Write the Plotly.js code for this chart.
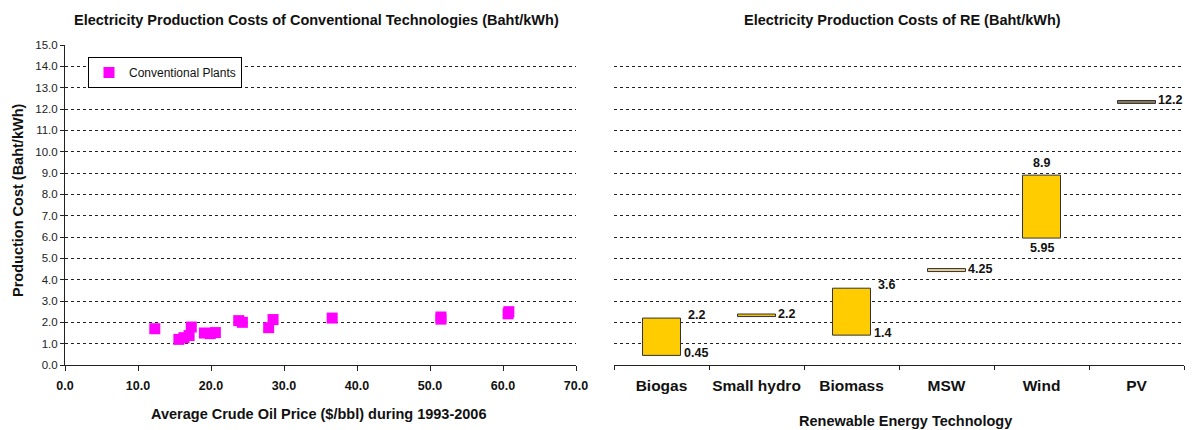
<!DOCTYPE html>
<html>
<head>
<meta charset="utf-8">
<script src="https://cdn.plot.ly/plotly-3.0.1.min.js"></script>
<style>html,body{margin:0;padding:0;background:#fff;}#chart{width:1193px;height:430px;}</style>
</head>
<body>
<div id="chart"></div>
<script>
// ---- Data: conventional plants ----
const oilPrice = [12.3, 15.6, 16.3, 17.0, 17.3, 19.1, 19.9, 20.6, 23.8, 24.3, 27.9, 28.5, 36.6, 51.5, 51.5, 60.7, 60.8];
const prodCost = [1.70, 1.20, 1.28, 1.38, 1.78, 1.50, 1.47, 1.52, 2.08, 2.00, 1.75, 2.13, 2.20, 2.15, 2.25, 2.40, 2.50];

// ---- Data: renewable energy ranges ----
const reTech = ["Biogas", "Small hydro", "Biomass", "MSW", "Wind", "PV"];
const reLow  = [0.45, 2.27, 1.4, 4.38, 5.95, 12.26];
const reHigh = [2.2, 2.39, 3.6, 4.52, 8.9, 12.40];
const reTopLabel    = ["2.2", "2.2", "3.6", "4.25", "8.9", "12.2"];
const reBottomLabel = ["0.45", "", "1.4", "", "5.95", ""];

const FONT = "Liberation Sans, Arial, sans-serif";
const barFill = ["#FFCC00", "#F0C010", "#FFCC00", "#E9CC8E", "#FFCC00", "#8A7A5C"];
const dash = "3px,3px";

const traces = [
  {
    type: "scatter", mode: "markers", name: "Conventional Plants",
    x: oilPrice, y: prodCost, xaxis: "x", yaxis: "y",
    marker: {symbol: "square", size: 11, color: "#FF00FF"},
    showlegend: true, cliponaxis: false
  },
  {
    type: "bar", x: reTech, y: reHigh.map((h, i) => h - reLow[i]), base: reLow,
    xaxis: "x2", yaxis: "y2", width: 0.4, showlegend: false,
    marker: {color: barFill, line: {color: "#333", width: 1}}
  }
];

const titleFont = {family: FONT, size: 14.5, color: "#111"};
const annotations = [];
function paperText(txt, px, py, extra) {
  annotations.push(Object.assign({text: "<b>" + txt + "</b>", xref: "paper", yref: "paper",
    x: px/1193, y: 1 - py/430, xanchor: "center", yanchor: "middle",
    showarrow: false, font: titleFont}, extra || {}));
}
paperText("Electricity Production Costs of Conventional Technologies (Baht/kWh)", 316, 20);
paperText("Electricity Production Costs of RE (Baht/kWh)", 902, 20);
paperText("Average Crude Oil Price ($/bbl) during 1993-2006", 319, 414);
paperText("Renewable Energy Technology", 905, 421);
paperText("Production Cost (Baht/kWh)", 18, 201, {textangle: -90});

// Value labels
const labelFont = {family: FONT, size: 12.5, color: "#111"};
reTech.forEach((c, i) => {
  const centred = (c === "Wind");
  const thin = (reHigh[i] - reLow[i]) < 0.5;
  if (reTopLabel[i]) {
    annotations.push({text: "<b>" + reTopLabel[i] + "</b>", xref: "x2", yref: "y2",
      x: c, y: reHigh[i], showarrow: false, font: labelFont,
      xanchor: centred ? "center" : "left", yanchor: centred ? "bottom" : "middle",
      xshift: centred ? 0 : (thin ? 19 : 24), yshift: centred ? 3 : (thin ? 0 : 3)});
  }
  if (reBottomLabel[i]) {
    annotations.push({text: "<b>" + reBottomLabel[i] + "</b>", xref: "x2", yref: "y2",
      x: c, y: reLow[i], showarrow: false, font: labelFont,
      xanchor: centred ? "center" : "left", yanchor: centred ? "top" : "middle",
      xshift: centred ? 0 : 20, yshift: centred ? -1 : 2});
  }
});

const yDomain = [1 - 365/430, 1 - 45/430];
const layout = {
  width: 1193, height: 430,
  margin: {l: 0, r: 0, t: 0, b: 0},
  paper_bgcolor: "#fff", plot_bgcolor: "#fff",
  font: {family: FONT, color: "#111"},
  showlegend: true,
  legend: {x: 88/1193, y: 1 - 57/430, xanchor: "left", yanchor: "top",
    bgcolor: "#fff", bordercolor: "#000", borderwidth: 1,
    font: {family: FONT, size: 12, color: "#111"}},
  xaxis: {domain: [65/1193, 576/1193], range: [0, 70], dtick: 10, tick0: 0,
    tickformat: ".1f", showgrid: false, zeroline: false,
    showline: true, linecolor: "#222", linewidth: 1,
    ticks: "outside", ticklen: 5, tickcolor: "#222", ticklabelstandoff: 4, tickangle: 0,
    tickfont: {family: FONT, size: 12.5, color: "#111", weight: "bold"}, fixedrange: true},
  yaxis: {domain: yDomain, range: [0, 15], dtick: 1, tick0: 0, tickformat: ".1f",
    showgrid: true, gridcolor: "#222", griddash: dash, gridwidth: 1, zeroline: false,
    showline: true, linecolor: "#222", linewidth: 1,
    ticks: "outside", ticklen: 4, tickcolor: "#222",
    tickfont: {family: FONT, size: 11.5, color: "#222"}},
  xaxis2: {domain: [614/1193, 1184/1193], anchor: "y2", type: "category",
    range: [-0.5, 5.5], showgrid: false, zeroline: false,
    showline: true, linecolor: "#222", linewidth: 1,
    ticks: "outside", tickson: "boundaries", ticklen: 4, tickcolor: "#222",
    tickangle: 0, ticklabelstandoff: 6,
    tickfont: {family: FONT, size: 15.5, color: "#111", weight: "bold"}},
  yaxis2: {domain: yDomain, anchor: "x2", range: [0, 15], dtick: 1, tick0: 0,
    showgrid: true, gridcolor: "#222", griddash: dash, gridwidth: 1, zeroline: false,
    showline: false, showticklabels: false, ticks: ""},
  annotations: annotations
};

Plotly.newPlot("chart", traces, layout, {displayModeBar: false, staticPlot: true});
</script>
</body>
</html>
